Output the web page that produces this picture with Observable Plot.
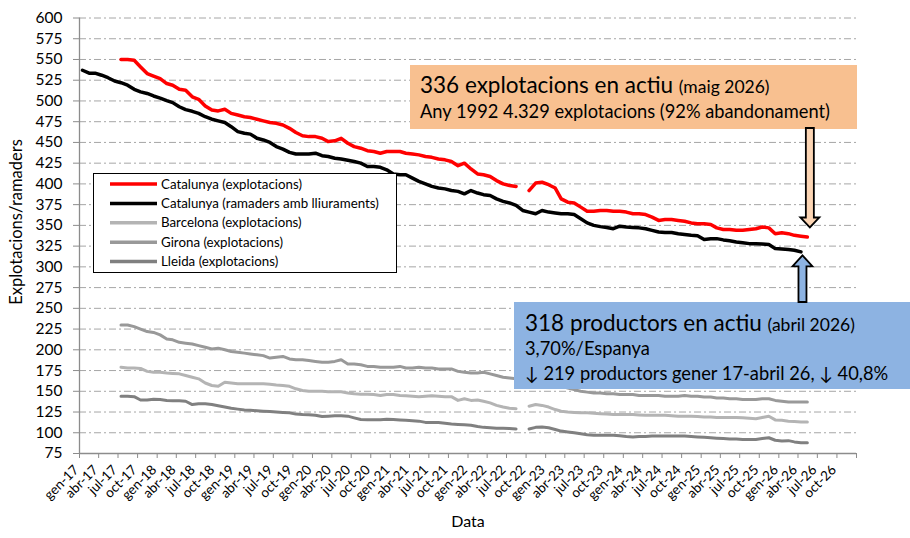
<!DOCTYPE html>
<html><head><meta charset="utf-8">
<script src="https://cdn.jsdelivr.net/npm/d3@7"></script>
<script src="https://cdn.jsdelivr.net/npm/@observablehq/plot@0.6"></script>
<style>
body{margin:0;background:#fff;font-family:Lato,sans-serif;}
#wrap{position:relative;width:910px;height:538px;overflow:hidden;}
#wrap svg.ov{position:absolute;left:0;top:0;pointer-events:none;}
</style></head><body><div id="wrap"></div>
<script>
// ---- data (monthly) ----
const monthNames = ["gen","feb","mar","abr","maig","jun","jul","ag","set","oct","nov","des"];
const seriesNames = ["Catalunya (explotacions)","Catalunya (ramaders amb lliuraments)","Barcelona (explotacions)","Girona (explotacions)","Lleida (explotacions)"];
const seriesColors = ["#ff0000","#000000","#b4b4b4","#999999","#808080"];

// from jul-17 to maig-26
const catExplotacions = [
550,550,549,541,533,530,527,521,519,514,
513,505,502,494,489,488,490,485,483,481,
480,478,476,474,473,471,467,462,458,457,
457,455,451,452,455,449,445,443,440,439,
437,439,439,439,437,436,435,433,432,430,
429,427,422,425,418,412,411,409,404,400,
398,397,null,392,401,402,399,395,382,378,
377,372,367,367,368,368,367,367,366,364,
364,363,360,356,357,357,356,355,353,352,
352,351,347,345,345,344,344,345,346,348,
347,340,341,340,338,337,336];
// from gen-17 to abr-26
const catRamaders = [
537,533.5,533.5,531,528,524,522,519,514,511,
509,506,503.5,500.5,498,493,489.5,487.5,485,481,
478,476,474,469,463,461,460,455,453,450,
445,442,438,436,436,436,437,434,433,431,
430,428.5,427,425,421,421,420,417,412,411,
411,407,403,400,397,395,394,392,391,388,
392,389,387,386,382,379,377,374,368,366,
364,368,366,365,364,364,363,358,353,350,
348.5,347.5,346,349,348,347.5,347,346,344,342,
341.5,341.5,340,339,338,337.5,333,334,334,332.5,
331.5,330,329,328,328,327.5,327,322,321.5,321,
320,318];
// from jul-17 to maig-26
const barcelona = [
179,178,178,177.5,174,173,173,172,171.5,171,
169,167,165,160,157,156,161,160,159,159,
159,159,159,158.5,157.6,157,156,153,151,150,
150,150,149.5,149.5,149.5,148,147,146.5,146.5,146,
145,146,146,145,144.5,144,143.5,144,144.5,144,
143.5,143.5,139,141,139,139.5,138,136,133,131,
129.5,129,null,132,134,133,131,128,126,125,
124.5,124,124,123.5,123,122.5,122,122,122,122,
121.5,121,121,121,121,120.5,120,120,120,119.5,
119,119,118.5,118.5,118.5,118.5,118,117.5,117,118.5,
120,115.5,115,114,113.5,113,113];
const girona = [
230,230,228,225,222,221,218,213,212,209,
208,207,205,203,201,202,200,198,197,196,
195,194,193,190,191,192,189,188,188,187,
186,185,185,186,188,183,183,182,180,180,
179,179,179,180,178,178,179,178,178,177,
177,177,174,173,172,172,173,171,169,167,
166,165,null,164,163,162,160,158,156,154,
152,150,149,148,148,147,147,146,146,146,
145,145,145,145,144,144,144,145,144,144,
143,143,142,142,141,141,140,140,140,141,
141,139,138,137,137,137,137];
const lleida = [
144,144,143.5,139.5,139.5,140.5,140,139,138.6,138.6,
138,134,135,135,134,132.5,131,129.5,128.5,127.5,
127,126.5,126,125.5,125,124.5,124,122.5,122,121.7,
121,119.5,120,120.5,120.5,120,118,116,115.6,115.6,
115.8,116.2,116,115.4,115,114.6,114,112.5,112.4,112.4,
111.5,110.5,110,109.6,109,107.5,106.5,106,105.5,105.5,
105,104.6,null,104.6,106.5,107,106,104,102,101,
100,98.7,97.5,97,97,97,97,96.5,95.5,95,
95.5,95.5,96,96,96,96,96,96,95.5,95,
94.5,94,93.5,93,92.5,92.5,92,92,92,93,
94,91,90,90.5,89,88,88];

const yTicks = d3.range(75, 601, 25);
const gridValues = d3.range(100, 601, 25);
const xTicks = d3.range(41).map(i => new Date(Date.UTC(2017, 3 * i, 1)));
const xLabelTicks = xTicks.slice(0, 40);

// ---- build rows ----
function rows(values, y0, m0) {
  return values.map((v, i) => ({date: new Date(Date.UTC(y0, m0 + i, 15)), value: v}));
}
const redRows = rows(catExplotacions, 2017, 6);
const blackRows = rows(catRamaders, 2017, 0);
const bcnRows = rows(barcelona, 2017, 6);
const girRows = rows(girona, 2017, 6);
const lleRows = rows(lleida, 2017, 6);

const fmt = d => monthNames[d.getUTCMonth()] + "-" + String(d.getUTCFullYear()).slice(2);
const axisGrey = "#8c8c8c";

const plot = Plot.plot({
  width: 910, height: 538,
  marginLeft: 79, marginRight: 54, marginTop: 17.5, marginBottom: 85,
  style: {fontFamily: "Lato, sans-serif", color: "#000", background: "#fff", overflow: "visible"},
  x: {type: "utc", domain: [new Date(Date.UTC(2017, 0, 1)), new Date(Date.UTC(2027, 0, 1))]},
  y: {domain: [75, 600]},
  marks: [
    Plot.ruleY(gridValues, {stroke: "#a6a6a6", strokeWidth: 1, strokeDasharray: "7,3,2,3"}),
    Plot.line(lleRows, {x: "date", y: "value", stroke: seriesColors[4], strokeWidth: 3}),
    Plot.line(girRows, {x: "date", y: "value", stroke: seriesColors[3], strokeWidth: 3}),
    Plot.line(bcnRows, {x: "date", y: "value", stroke: seriesColors[2], strokeWidth: 3}),
    Plot.line(blackRows, {x: "date", y: "value", stroke: seriesColors[1], strokeWidth: 3.5}),
    Plot.line(redRows, {x: "date", y: "value", stroke: seriesColors[0], strokeWidth: 3.5}),
    Plot.ruleY([75], {stroke: axisGrey, strokeWidth: 1.3}),
    Plot.ruleX([xTicks[0]], {stroke: axisGrey, strokeWidth: 1.3}),
    Plot.axisY({ticks: yTicks, tickSize: 6, tickPadding: 11, fontSize: 15.5, stroke: axisGrey, label: null, tickFormat: d => String(d)}),
    Plot.axisX({ticks: xTicks, tickSize: 5, stroke: axisGrey, label: null, tickFormat: () => ""})
  ]
});
const wrap = document.getElementById("wrap");
wrap.appendChild(plot);

// ---- overlay: tick labels, titles, legend, annotations (positioned with the plot's scales) ----
const sx = plot.scale("x"), sy = plot.scale("y");
const axisY0 = sy.apply(75);
let xLabels = "";
xLabelTicks.forEach(d => {
  const x = sx.apply(d) - 2.5, y = axisY0 + 14.5;
  xLabels += `<text transform="translate(${x},${y}) rotate(-45)" text-anchor="end" dy="0.33em" font-size="13.5">${fmt(d)}</text>`;
});

const redEnd = redRows[redRows.length - 1], blackEnd = blackRows[blackRows.length - 1];
const ox = sx.apply(redEnd.date) + 3, oTip = sy.apply(redEnd.value) - 9;
const bx = sx.apply(blackEnd.date) + 2, bTip = sy.apply(blackEnd.value) + 4;

let legend = `<rect x="93.5" y="173.5" width="303" height="99" fill="#fff" stroke="#000" stroke-width="1"/>`;
seriesNames.forEach((n, i) => {
  const y = 184 + i * 19.4;
  legend += `<line x1="110" x2="157" y1="${y}" y2="${y}" stroke="${seriesColors[i]}" stroke-width="3.5"/>`;
  legend += `<text x="161" y="${y + 4.5}" font-size="13.3">${n}</text>`;
});

const ov = `<svg class="ov" width="910" height="538" font-family="Lato, sans-serif" fill="#000">
${xLabels}
<text transform="translate(22,222) rotate(-90)" text-anchor="middle" font-size="16.5">Explotacions/ramaders</text>
<text x="468" y="527" text-anchor="middle" font-size="16">Data</text>
${legend}
<rect x="410" y="65" width="447" height="64" fill="#f8c090"/>
<text x="420" y="93" font-size="22.5">336 explotacions en actiu <tspan font-size="17.5">(maig 2026)</tspan></text>
<text x="420" y="118" font-size="18.3">Any 1992 4.329 explotacions (92% abandonament)</text>
<path d="M${ox-4},128 V${oTip-10} H${ox-9.5} L${ox},${oTip} L${ox+9.5},${oTip-10} H${ox+4} V128 Z" fill="#fcd5b4" stroke="#000" stroke-width="1.8"/>
<rect x="514" y="302" width="396" height="87" fill="#8db3e2"/>
<text x="525" y="331" font-size="22.5">318 productors en actiu <tspan font-size="17.5">(abril 2026)</tspan></text>
<text x="525" y="355" font-size="18.3">3,70%/Espanya</text>
<text x="525" y="380" font-size="18.3">↓ 219 productors gener 17-abril 26, ↓ 40,8%</text>
<path d="M${bx-4},302 V${bTip+11} H${bx-10} L${bx},${bTip} L${bx+10},${bTip+11} H${bx+4} V302 Z" fill="#8db3e2" stroke="#000" stroke-width="1.8"/>
</svg>`;
wrap.insertAdjacentHTML("beforeend", ov);
</script></body></html>
